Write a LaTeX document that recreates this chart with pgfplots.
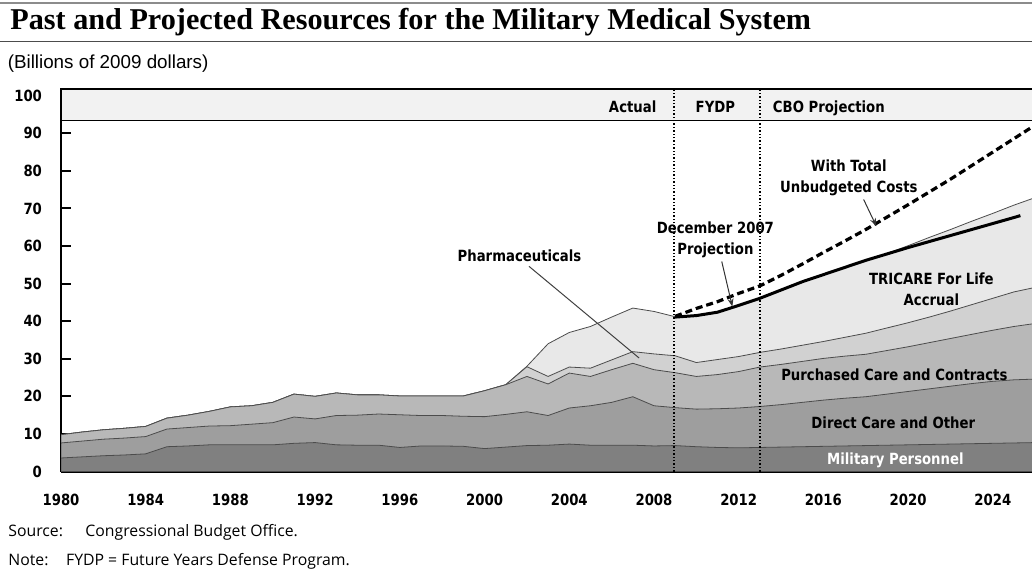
\documentclass[border=0pt]{standalone}
\usepackage{fontspec}
\setmainfont{Liberation Sans}
\newfontfamily\titlefont{Liberation Serif}
\newfontfamily\chartfont{DejaVu Sans}[FakeStretch=0.86]
\newfontfamily\notefont{Open Sans}
\usepackage{pgfplots}
\pgfplotsset{compat=1.18}
\usepackage{pgfplotstable}
\usetikzlibrary{arrows.meta}

\definecolor{mpgray}{gray}{0.50}
\definecolor{dcgray}{gray}{0.62}
\definecolor{pcgray}{gray}{0.72}
\definecolor{phgray}{gray}{0.82}
\definecolor{tflgray}{gray}{0.91}
\definecolor{bandgray}{gray}{0.95}
\newcommand\lbl{\chartfont\bfseries\fontsize{7.7}{10.5}\selectfont}

% cumulative tops of the stacked layers
\pgfplotstableread{
year mp  dc   pc   ph   tot
1980 3.6 7.6  9.8  9.8  9.8
1981 3.9 8.1  10.5 10.5 10.5
1982 4.2 8.6  11.1 11.1 11.1
1983 4.4 8.9  11.5 11.5 11.5
1984 4.7 9.3  12.0 12.0 12.0
1985 6.6 11.3 14.2 14.2 14.2
1986 6.8 11.7 15.0 15.0 15.0
1987 7.1 12.1 16.0 16.0 16.0
1988 7.1 12.2 17.2 17.2 17.2
1989 7.1 12.6 17.5 17.5 17.5
1990 7.1 13.0 18.4 18.4 18.4
1991 7.5 14.5 20.6 20.6 20.6
1992 7.7 14.0 20.0 20.0 20.0
1993 7.1 14.9 20.9 20.9 20.9
1994 7.0 15.0 20.4 20.4 20.4
1995 7.0 15.3 20.4 20.4 20.4
1996 6.4 15.1 20.1 20.1 20.1
1997 6.8 14.9 20.1 20.1 20.1
1998 6.8 14.9 20.1 20.1 20.1
1999 6.7 14.7 20.1 20.1 20.1
2000 6.1 14.6 21.5 21.5 21.5
2001 6.5 15.2 23.1 23.1 23.1
2002 6.9 15.9 25.3 27.9 28.0
2003 7.0 14.9 23.3 25.3 34.0
2004 7.3 16.9 26.2 27.8 37.0
2005 7.0 17.5 25.3 27.5 38.6
2006 7.0 18.4 27.1 29.7 41.1
2007 7.0 19.9 28.8 31.9 43.5
2008 6.8 17.5 27.1 31.3 42.6
2009 6.9 17.0 26.3 30.8 41.2
2010 6.6 16.6 25.3 29.0 41.5
2011 6.4 16.7 25.8 29.8 42.4
2012 6.3 16.9 26.6 30.6 44.2
2013 6.4 17.3 27.8 31.7 46.1
2014 6.5 17.8 28.5 32.6 48.3
2015 6.6 18.4 29.3 33.6 50.5
2016 6.7 19.0 30.1 34.6 52.4
2017 6.8 19.5 30.7 35.7 54.3
2018 6.9 19.9 31.2 36.8 56.2
2019 7.0 20.6 32.2 38.2 58.0
2020 7.1 21.3 33.2 39.6 60.1
2021 7.2 22.0 34.3 41.1 62.3
2022 7.3 22.7 35.4 42.7 64.4
2023 7.4 23.4 36.5 44.4 66.6
2024 7.5 24.0 37.6 46.1 68.7
2025 7.6 24.4 38.6 47.8 70.9
2026 7.7 24.6 39.4 49.0 72.9
}\layers

\begin{document}
\begin{tikzpicture}
\begin{axis}[
    at={(0,0)}, anchor=south west,
    scale only axis,
    width=485.5pt, height=191.25pt,
    xmin=1980, xmax=2025.85,
    ymin=0, ymax=101.8,
    axis x line*=bottom, axis y line*=left,
    axis line style={line width=1pt},
    xtick={1980,1984,...,2024},
    ytick={0,10,...,90},
    extra y ticks={100},
    extra y tick style={major tick length=0pt},
    tick align=inside,
    major tick length=5pt,
    tick style={line width=1pt, black},
    tick label style={font=\lbl},
    /pgf/number format/1000 sep={},
    /pgf/number format/assume math mode=true,
    xticklabel style={anchor=base, yshift=-17pt},
    yticklabel style={xshift=-6pt},
    clip mode=individual,
]
    \addplot[fill=tflgray, draw=black!70, line width=0.4pt] table[x=year, y=tot] {\layers} \closedcycle;
    \addplot[fill=phgray, draw=black!70, line width=0.4pt] table[x=year, y=ph] {\layers} \closedcycle;
    \addplot[fill=pcgray, draw=black!70, line width=0.4pt] table[x=year, y=pc] {\layers} \closedcycle;
    \addplot[fill=dcgray, draw=black!70, line width=0.4pt] table[x=year, y=dc] {\layers} \closedcycle;
    \addplot[fill=mpgray, draw=black!70, line width=0.4pt] table[x=year, y=mp] {\layers} \closedcycle;

    % header band
    \draw[fill=bandgray, line width=0.6pt] (axis cs:1980,93.5) rectangle (axis cs:2027,101.8);
    \draw[densely dotted, line width=0.7pt] (axis cs:2008.95,0) -- (axis cs:2008.95,101.8);
    \draw[densely dotted, line width=0.7pt] (axis cs:2013,0) -- (axis cs:2013,101.8);
    \node[anchor=base east, inner sep=0, font=\lbl] at (axis cs:2008.13,95.6) {Actual};
    \node[anchor=base, inner sep=0, font=\lbl] at (axis cs:2010.9,95.6) {FYDP};
    \node[anchor=base west, inner sep=0, font=\lbl] at (axis cs:2013.6,95.6) {CBO Projection};

    % December 2007 projection
    \addplot[black, line width=1.5pt] coordinates {
        (2009,41.1) (2010,41.5) (2011,42.4) (2012,44.2) (2013,46.1) (2014,48.3)
        (2015,50.5) (2016,52.4) (2017,54.3) (2018,56.2) (2019,57.9) (2020,59.6)
        (2021,61.2) (2022,62.8) (2023,64.4) (2024,66.0) (2025,67.6) (2025.3,68.1)};
    % with total unbudgeted costs
    \addplot[black, line width=1.6pt, dash pattern=on 3.5pt off 2pt] coordinates {
        (2009,41.3) (2010,43.4) (2011,45.2) (2012,47.4) (2013,49.4) (2014,52.2)
        (2015,55.2) (2016,58.3) (2017,61.3) (2018,64.4) (2019,67.7) (2020,71.0)
        (2021,74.4) (2022,77.8) (2023,81.4) (2024,85.0) (2025,88.6) (2026,92.2)};

    % labels
    \node[font=\lbl] at (axis cs:2001.65,57.5) {Pharmaceuticals};
    \draw[black!75, line width=0.5pt] (axis cs:2002.1,54.6) -- (axis cs:2007.3,30.2);
    \node[font=\lbl, align=center] at (axis cs:2010.9,61.75) {December 2007\\Projection};
    \draw[-{Stealth[length=4pt,width=3pt]}, black!80, line width=0.5pt] (axis cs:2011.2,55.9) -- (axis cs:2011.7,43.9);
    \node[font=\lbl, align=center] at (axis cs:2017.2,78.1) {With Total\\Unbudgeted Costs};
    \draw[-{Stealth[length=4pt,width=3pt]}, black!80, line width=0.5pt] (axis cs:2017.9,72.4) -- (axis cs:2018.5,65.3);
    \node[font=\lbl, align=center] at (axis cs:2021.1,48.5) {TRICARE For Life\\Accrual};
    \node[font=\lbl] at (axis cs:2019.35,25.7) {Purchased Care and Contracts};
    \node[font=\lbl] at (axis cs:2019.3,13.0) {Direct Care and Other};
    \node[font=\lbl, text=white] at (axis cs:2019.4,3.1) {Military Personnel};
\end{axis}

\draw[black!45, line width=1.2pt] (-30.5pt,234.25pt) -- (485.5pt,234.25pt);
\node[anchor=base west, inner sep=0, font=\titlefont\bfseries\fontsize{15.1}{17}\selectfont]
    at (-25.5pt,221.1pt) {Past and Projected Resources for the Military Medical System};
\draw[black!70, line width=0.7pt] (-30.5pt,214.9pt) -- (485.5pt,214.9pt);
\node[anchor=base west, inner sep=0, font=\fontsize{9.4}{11}\selectfont]
    at (-26.8pt,201.6pt) {(Billions of 2009 dollars)};

\node[anchor=base west, inner sep=0, font=\notefont\fontsize{7.9}{9}\selectfont] at (-26.5pt,-32.6pt) {Source:};
\node[anchor=base west, inner sep=0, font=\notefont\fontsize{7.9}{9}\selectfont] at (12pt,-32.6pt) {Congressional Budget Office.};
\node[anchor=base west, inner sep=0, font=\notefont\fontsize{7.9}{9}\selectfont] at (-26.5pt,-46.75pt) {Note:};
\node[anchor=base west, inner sep=0, font=\notefont\fontsize{7.9}{9}\selectfont] at (2.35pt,-46.75pt) {FYDP = Future Years Defense Program.};

\pgfresetboundingbox
\useasboundingbox (-30.5pt,-48.75pt) rectangle (485.5pt,235.75pt);
\end{tikzpicture}
\end{document}
